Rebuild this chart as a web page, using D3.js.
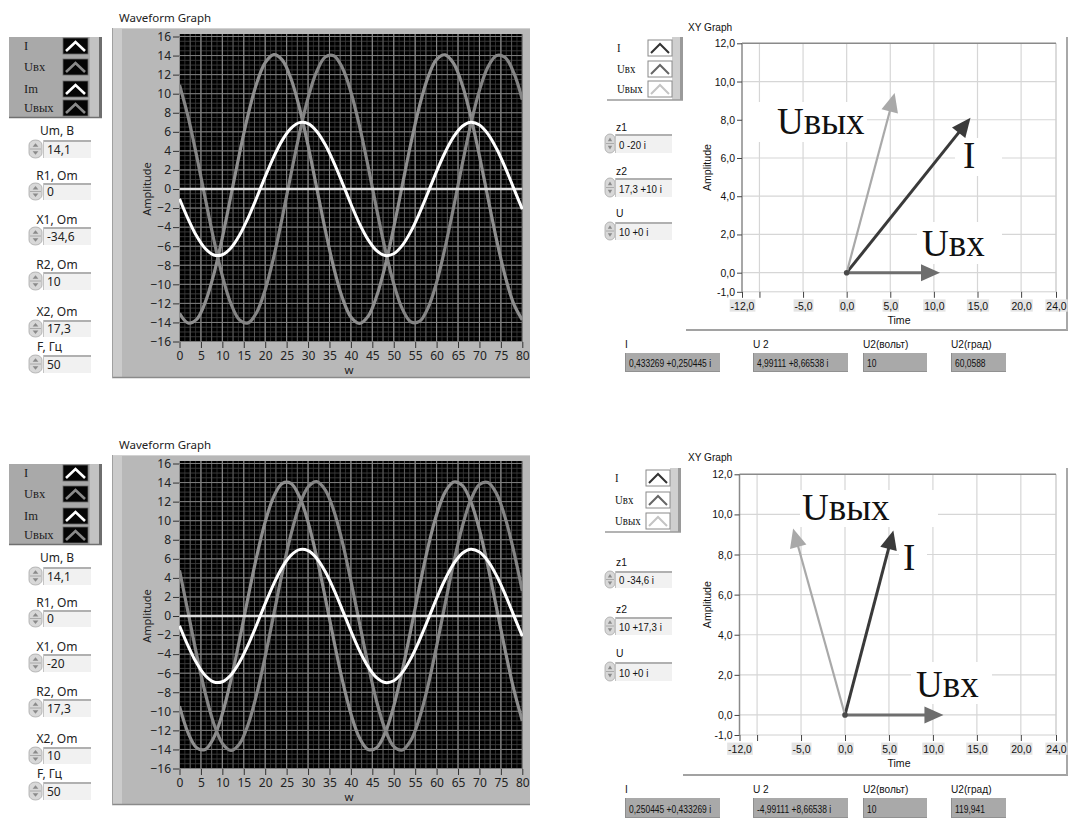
<!DOCTYPE html>
<html><head><meta charset="utf-8">
<script src="https://cdn.jsdelivr.net/npm/d3@7/dist/d3.min.js"></script>
<style>html,body{margin:0;padding:0;background:#fff}svg{display:block}</style>
</head><body><svg id="c" width="1072" height="821"></svg>
<script>
// ---------------- DATA ----------------
const wX=[0,2,4,6,8,10,12,14,16,18,20,22,24,26,28,30,32,34,36,38,40,42,44,46,48,50,52,54,56,58,60,62,64,66,68,70,72,74,76,78,80];
const iTop=[-1.02,-3.13,-4.94,-6.25,-6.92,-6.90,-6.19,-4.86,-3.05,-0.93,1.30,3.38,5.13,6.36,6.96,6.85,6.06,4.66,2.79,0.65,-1.57,-3.63,-5.31,-6.47,-6.98,-6.79,-5.92,-4.45,-2.53,-0.37,1.85,3.86,5.49,6.58,7.00,6.71,5.76,4.22,2.27,0.07,-2.12];
const uOutTop=[-13.05,-14.06,-13.68,-11.90,-8.96,-5.10,-0.71,3.72,7.78,11.08,13.25,14.09,13.52,11.59,8.50,4.57,0.15,-4.26,-8.25,-11.41,-13.43,-14.10,-13.36,-11.26,-8.05,-4.03,0.39,4.80,8.70,11.73,13.59,14.08,13.16,10.91,7.57,3.48,-0.98,-5.33,-9.14,-12.05,-13.73];
const uInTop=[10.93,7.60,3.48,-0.96,-5.30,-9.12,-12.03,-13.73,-14.05,-12.96,-10.56,-7.12,-2.96,1.52,5.82,9.55,12.31,13.85,13.99,12.73,10.18,6.62,2.40,-2.08,-6.33,-9.94,-12.58,-13.94,-13.90,-12.47,-9.80,-6.11,-1.84,2.62,6.84,10.35,12.82,14.01,13.80,12.20,9.38];
const imTop=[0,0,0,0,0,0,0,0,0,0,0,0,0,0,0,0,0,0,0,0,0,0,0,0,0,0,0,0,0,0,0,0,0,0,0,0,0,0,0,0,0];
const iBottom=[-1.02,-3.13,-4.94,-6.25,-6.92,-6.90,-6.19,-4.86,-3.05,-0.93,1.30,3.38,5.13,6.36,6.96,6.85,6.06,4.66,2.79,0.65,-1.57,-3.63,-5.31,-6.47,-6.98,-6.79,-5.92,-4.45,-2.53,-0.37,1.85,3.86,5.49,6.58,7.00,6.71,5.76,4.22,2.27,0.07,-2.12];
const uOutBottom=[-9.46,-12.26,-13.82,-14.00,-12.77,-10.26,-6.73,-2.52,1.96,6.22,9.87,12.53,13.92,13.92,12.52,9.87,6.22,1.96,-2.52,-6.73,-10.26,-12.78,-14.00,-13.82,-12.25,-9.46,-5.71,-1.40,3.05,7.22,10.64,13.00,14.06,13.70,11.97,9.04,5.19,0.83,-3.60,-7.68,-11.00];
const uInBottom=[4.78,0.39,-4.05,-8.07,-11.28,-13.36,-14.10,-13.42,-11.41,-8.23,-4.24,0.17,4.57,8.53,11.60,13.53,14.09,13.24,11.07,7.78,3.70,-0.74,-5.10,-8.95,-11.92,-13.68,-14.06,-13.04,-10.70,-7.30,-3.17,1.30,5.62,9.39,12.21,13.80,14.01,12.82,10.32,6.81,2.62];
const imBottom=[0,0,0,0,0,0,0,0,0,0,0,0,0,0,0,0,0,0,0,0,0,0,0,0,0,0,0,0,0,0,0,0,0,0,0,0,0,0,0,0,0];
const waveYTicks=[-16,-14,-12,-10,-8,-6,-4,-2,0,2,4,6,8,10,12,14,16];
const waveXTicks=[0,5,10,15,20,25,30,35,40,45,50,55,60,65,70,75,80];
const waveLegend=["I","Uвх","Im","Uвых"];
const ctrlLabels=["Um, В","R1, Om","X1, Om","R2, Om","X2, Om","F, Гц"];
const ctrlTop=["14,1","0","-34,6","10","17,3","50"];
const ctrlBottom=["14,1","0","-20","17,3","10","50"];
const xyLegend=["I","Uвх","Uвых"];
const xyYTicks=[12,10,8,6,4,2,0,-1];
const xyYLabels=["12,0","10,0","8,0","6,0","4,0","2,0","0,0","-1,0"];
const xyXTicks=[-12,-10,-5,0,5,10,15,20,24];
const xyXLabels=["-12,0","","-5,0","0,0","5,0","10,0","15,0","20,0","24,0"];
const xyGridX=[-10,-5,0,5,10,15,20];
const xyGridY=[0,2,4,6,8,10];
const vecNames=["Uвх","I","Uвых"];
const vecTopX=[10.7,14.2,5.5];
const vecTopY=[0,8.1,9.4];
const vecBotX=[11.2,5.5,-5.9];
const vecBotY=[0,9.2,9.3];
const zLabels=["z1","z2","U"];
const zTop=["0 -20 i","17,3 +10 i","10 +0 i"];
const zBottom=["0 -34,6 i","10 +17,3 i","10 +0 i"];
const indLabels=["I","U 2","U2(вольт)","U2(град)"];
const indTop=["0,433269 +0,250445 i","4,99111 +8,66538 i","10","60,0588"];
const indBottom=["0,250445 +0,433269 i","-4,99111 +8,66538 i","10","119,941"];

// ---------------- DRAWING ----------------
const svg=d3.select('#c');
const FUI='"Noto Sans","Open Sans",sans-serif';
const FNAR='"Liberation Sans",Arial,sans-serif';
const FSER='"Liberation Serif","DejaVu Serif",serif';

function txt(g,x,y,s,o={}){
  const t=g.append('text').text(s)
    .attr('font-family',o.f||FUI).attr('font-size',o.s||12)
    .attr('fill',o.c||'#222').attr('text-anchor',o.a||'start');
  if(o.sx) t.attr('transform',`translate(${x},${y}) scale(${o.sx},1)`);
  else t.attr('x',x).attr('y',y);
  return t;
}
function spinner(g,x,y0,y1,w){
  const h=y1-y0;
  g.append('rect').attr('x',x).attr('y',y0).attr('width',w).attr('height',h)
    .attr('rx',w/2).attr('ry',5).attr('fill','#d8d8d8').attr('stroke','#a8a8a8').attr('stroke-width',0.8);
  g.append('line').attr('x1',x+1).attr('x2',x+w-1).attr('y1',y0+h/2).attr('y2',y0+h/2).attr('stroke','#a0a0a0').attr('stroke-width',0.8);
  const cx=x+w/2, a=w*0.22;
  g.append('path').attr('d',`M${cx-a},${y0+h*0.38}L${cx},${y0+h*0.18}L${cx+a},${y0+h*0.38}Z`).attr('fill','#8a8a8a');
  g.append('path').attr('d',`M${cx-a},${y0+h*0.62}L${cx},${y0+h*0.82}L${cx+a},${y0+h*0.62}Z`).attr('fill','#8a8a8a');
}
function field(g,x0,x1,y0,y1,s,o={}){
  g.append('rect').attr('x',x0).attr('y',y0).attr('width',x1-x0).attr('height',y1-y0).attr('fill','#f1f1f1');
  g.append('line').attr('x1',x0).attr('x2',x1).attr('y1',y0+1).attr('y2',y0+1).attr('stroke','#b0b0b0').attr('stroke-width',2);
  g.append('line').attr('x1',x0+0.5).attr('x2',x0+0.5).attr('y1',y0).attr('y2',y1).attr('stroke','#c4c4c4').attr('stroke-width',1);
  txt(g,x0+(o.pad||5),y1-(o.bl||4.5),s,{s:o.s||12,f:o.f||FUI,sx:o.sx,c:o.c});
}

function drawWave(off,series,ctrlVals){
  const g=svg.append('g').attr('transform',`translate(0,${off})`);
  txt(g,119,22,'Waveform Graph',{s:11.5});
  g.append('rect').attr('x',112).attr('y',28).attr('width',418).attr('height',350).attr('fill','#b8b8b8');
  g.append('rect').attr('x',112).attr('y',28).attr('width',10).attr('height',350).attr('fill','#cbcbcb');
  g.append('line').attr('x1',112).attr('x2',530).attr('y1',28.5).attr('y2',28.5).attr('stroke','#d2d2d2');
  g.append('line').attr('x1',112).attr('x2',530).attr('y1',377.5).attr('y2',377.5).attr('stroke','#8a8a8a').attr('stroke-width',1.5);
  g.append('line').attr('x1',112.5).attr('x2',112.5).attr('y1',28).attr('y2',378).attr('stroke','#a0a0a0');
  const x=d3.scaleLinear().domain([0,80]).range([179.5,522.3]);
  const y=d3.scaleLinear().domain([-16,16]).range([341.5,36.5]);
  g.append('rect').attr('x',179).attr('y',34).attr('width',344).attr('height',308).attr('fill','#000');
  const grid=g.append('g');
  d3.range(0,80.001,1.25).forEach(v=>grid.append('line').attr('x1',x(v)).attr('x2',x(v)).attr('y1',34).attr('y2',342).attr('stroke','#2e2e2e').attr('stroke-width',1));
  d3.range(-16,16.001,0.5).forEach(v=>grid.append('line').attr('x1',179).attr('x2',523).attr('y1',y(v)).attr('y2',y(v)).attr('stroke','#3a3a3a').attr('stroke-width',1));
  d3.range(0,80.001,2.5).forEach(v=>grid.append('line').attr('x1',x(v)).attr('x2',x(v)).attr('y1',34).attr('y2',342).attr('stroke','#5a5a5a').attr('stroke-width',1));
  waveXTicks.forEach(v=>grid.append('line').attr('x1',x(v)).attr('x2',x(v)).attr('y1',34).attr('y2',342).attr('stroke','#8c8c8c').attr('stroke-width',1));
  waveYTicks.forEach(v=>grid.append('line').attr('x1',179).attr('x2',523).attr('y1',y(v)).attr('y2',y(v)).attr('stroke','#7e7e7e').attr('stroke-width',1));
  const ay=g.append('g').attr('transform','translate(179,0)').call(d3.axisLeft(y).tickValues(waveYTicks).tickSize(6).tickPadding(2));
  const ax=g.append('g').attr('transform','translate(0,342)').call(d3.axisBottom(x).tickValues(waveXTicks).tickSize(6).tickPadding(3));
  [ay,ax].forEach(a=>{a.select('.domain').remove();a.selectAll('line').attr('stroke','#333');
    a.selectAll('text').attr('font-family',FUI).attr('font-size',12).attr('fill','#222');});
  txt(g,349,374,'w',{s:11.5,a:'middle'});
  g.append('text').attr('transform','translate(151,189) rotate(-90)').attr('text-anchor','middle')
    .attr('font-family',FUI).attr('font-size',11).attr('fill','#222').text('Amplitude');
  const clip='clipw'+off;
  g.append('clipPath').attr('id',clip).append('rect').attr('x',179).attr('y',34).attr('width',344).attr('height',308);
  const pg=g.append('g').attr('clip-path',`url(#${clip})`);
  const line=d3.line().x((d,i)=>x(wX[i])).y(d=>y(d)).curve(d3.curveCatmullRom);
  series.forEach(s=>pg.append('path').attr('d',line(s.v)).attr('fill','none').attr('stroke',s.c).attr('stroke-width',s.w).attr('stroke-linejoin','round'));
  // legend
  g.append('rect').attr('x',9).attr('y',37).attr('width',93).attr('height',81).attr('fill','#a9a9a9');
  g.append('rect').attr('x',90).attr('y',37).attr('width',12).attr('height',81).attr('fill','#c2c2c2');
  g.append('rect').attr('x',99).attr('y',37).attr('width',3).attr('height',81).attr('fill','#6e6e6e');
  g.append('line').attr('x1',9).attr('x2',102).attr('y1',117.5).attr('y2',117.5).attr('stroke','#707070').attr('stroke-width',1.5);
  const legY=[46,67,89,108], legC=['#ffffff','#8a8a8a','#ffffff','#8a8a8a'];
  waveLegend.forEach((n,i)=>{
    txt(g,24,legY[i]+4,n,{f:FSER,s:12.5,c:'#1e1e1e'});
    g.append('rect').attr('x',63).attr('y',legY[i]-8).attr('width',25).attr('height',16).attr('fill','#050505').attr('stroke','#6a6a6a').attr('stroke-width',0.8);
    g.append('path').attr('d',`M${66},${legY[i]+5}L${75.5},${legY[i]-4}L${85},${legY[i]+5}`).attr('fill','none').attr('stroke',legC[i]).attr('stroke-width',2.6);
  });
  const lab=[135,180,224,269,316,351], f0=[140,183,227,272,320,355], f1=[158,200,245,290,337,373];
  ctrlLabels.forEach((n,i)=>{
    if(i===5) txt(g,37,lab[i],n,{s:12});
    else txt(g,57,lab[i],n,{s:12,a:'middle'});
    spinner(g,29,f0[i],f1[i],13);
    field(g,43,91,f0[i],f1[i],ctrlVals[i],{pad:4});
  });
}

function drawXY(p){
  const g=svg.append('g');
  const x=d3.scaleLinear().domain([-12,24]).range([p.x0,p.x1]);
  const y=d3.scaleLinear().domain([-1,12]).range([p.y1,p.y0]);
  txt(g,688,p.title,'XY Graph',{f:FNAR,s:11.5,sx:0.88,c:'#111'});
  g.append('rect').attr('x',p.x0).attr('y',p.y0).attr('width',p.x1-p.x0).attr('height',p.y1-p.y0).attr('fill','#fff');
  xyGridX.forEach(v=>g.append('line').attr('x1',x(v)).attr('x2',x(v)).attr('y1',p.y0).attr('y2',p.y1).attr('stroke','#d6d6d6').attr('stroke-width',1.2));
  xyGridY.forEach(v=>g.append('line').attr('x1',p.x0).attr('x2',p.x1).attr('y1',y(v)).attr('y2',y(v)).attr('stroke','#d6d6d6').attr('stroke-width',1.2));
  g.append('line').attr('x1',p.x0).attr('x2',p.x1).attr('y1',p.y1).attr('y2',p.y1).attr('stroke','#d0d0d0');
  g.append('line').attr('x1',p.x1).attr('x2',p.x1).attr('y1',p.y0).attr('y2',p.y1).attr('stroke','#cfcfcf').attr('stroke-width',1.5);
  g.append('line').attr('x1',p.x0).attr('x2',p.x1).attr('y1',p.y0).attr('y2',p.y0).attr('stroke','#8a8a8a').attr('stroke-width',1.5);
  g.append('line').attr('x1',p.x0).attr('x2',p.x0).attr('y1',p.y0).attr('y2',p.y1).attr('stroke','#8a8a8a').attr('stroke-width',1.5);
  g.append('line').attr('x1',p.fx).attr('x2',1068).attr('y1',p.fb).attr('y2',p.fb).attr('stroke','#a2a2a2').attr('stroke-width',2);
  g.append('line').attr('x1',1067).attr('x2',1067).attr('y1',p.ft).attr('y2',p.fb).attr('stroke','#a8a8a8').attr('stroke-width',2);
  const SX=0.95;
  const ay=g.append('g').attr('transform',`translate(${p.x0},0)`).call(d3.axisLeft(y).tickValues(xyYTicks).tickFormat((d,i)=>xyYLabels[i]).tickSize(5).tickPadding(2));
  const ax=g.append('g').attr('transform',`translate(0,${p.y1})`).call(d3.axisBottom(x).tickValues(xyXTicks).tickFormat((d,i)=>xyXLabels[i]).tickSize(6).tickPadding(4));
  [ay,ax].forEach(a=>{a.select('.domain').remove();a.selectAll('line').attr('stroke','#444');
    a.selectAll('text').attr('font-family',FNAR).attr('font-size',11).attr('fill','#111').attr('transform',`scale(${SX},1)`);});
  ay.selectAll('text').attr('x',-7/SX);
  ax.selectAll('.tick').each(function(d,i){
    if(!xyXLabels[i]) return;
    const t=d3.select(this), bb=t.select('text').node().getBBox();
    t.insert('rect','text').attr('x',bb.x-1).attr('y',bb.y).attr('width',bb.width+2).attr('height',bb.height)
      .attr('fill','#e4e4e4').attr('transform',`scale(${SX},1)`);
  });
  txt(g,899,p.y1+32,'Time',{f:FNAR,s:11.5,a:'middle',sx:0.92,c:'#111'});
  g.append('text').attr('transform',`translate(711,${(p.y0+p.y1)/2}) rotate(-90) scale(0.92,1)`).attr('text-anchor','middle')
    .attr('font-family',FNAR).attr('font-size',11.5).attr('fill','#111').text('Amplitude');
  p.lbl.forEach(l=>{
    g.append('rect').attr('x',l.bx0).attr('y',l.by0).attr('width',l.bx1-l.bx0).attr('height',l.by1-l.by0).attr('fill','#fff');
  });
  const col=['#6e6e6e','#3a3a3a','#a9a9a9'], wd=[3,3,2.2];
  const ox=x(0), oy=y(0);
  vecNames.forEach((n,i)=>{
    const tx=x(p.vx[i]), ty=y(p.vy[i]);
    const dx=tx-ox, dy=ty-oy, L=Math.hypot(dx,dy), ux=dx/L, uy=dy/L;
    const hl=19, hw=8.5, bx=tx-ux*hl, by=ty-uy*hl;
    g.append('line').attr('x1',ox).attr('y1',oy).attr('x2',bx+ux*2).attr('y2',by+uy*2).attr('stroke',col[i]).attr('stroke-width',wd[i]);
    g.append('path').attr('d',`M${tx},${ty}L${bx-uy*hw},${by+ux*hw}L${bx+uy*hw},${by-ux*hw}Z`).attr('fill',col[i]);
  });
  g.append('circle').attr('cx',ox).attr('cy',oy).attr('r',2.8).attr('fill','#4a4a4a');
  p.lbl.forEach(l=>txt(g,l.x,l.y,l.t,{f:FSER,s:37,c:'#111'}));
  // legend
  g.append('rect').attr('x',p.lx0).attr('y',p.ly0).attr('width',76).attr('height',p.ly1-p.ly0).attr('fill','#fff');
  g.append('rect').attr('x',p.lx0+65).attr('y',p.ly0).attr('width',11).attr('height',p.ly1-p.ly0).attr('fill','#cfcfcf');
  g.append('rect').attr('x',p.lx0+73).attr('y',p.ly0).attr('width',3).attr('height',p.ly1-p.ly0).attr('fill','#9a9a9a');
  g.append('line').attr('x1',p.lx0).attr('x2',p.lx0+76).attr('y1',p.ly1).attr('y2',p.ly1).attr('stroke','#9a9a9a').attr('stroke-width',1.5);
  const lc=['#333','#666','#c4c4c4'];
  xyLegend.forEach((n,i)=>{
    const cy=p.legY[i];
    txt(g,p.lx0+10,cy+4,n,{f:FSER,s:12,c:'#111',sx:0.9});
    g.append('rect').attr('x',p.lx0+41).attr('y',cy-8).attr('width',24).attr('height',16).attr('fill','#fff').attr('stroke','#8a8a8a').attr('stroke-width',1);
    g.append('path').attr('d',`M${p.lx0+44},${cy+5}L${p.lx0+53},${cy-4}L${p.lx0+62},${cy+5}`).attr('fill','none').attr('stroke',lc[i]).attr('stroke-width',2);
  });
  zLabels.forEach((n,i)=>{
    txt(g,616,p.zl[i],n,{f:FNAR,s:11.5,sx:0.9,c:'#111'});
    spinner(g,605,p.z0[i],p.z1[i],10);
    field(g,615,672,p.z0[i],p.z1[i],p.zv[i],{f:FNAR,s:11,pad:4,sx:0.88,c:'#111'});
  });
  const ix0=[625,753,863,951], ix1=[720,848,927,1006];
  indLabels.forEach((n,i)=>{
    txt(g,ix0[i],p.il,n,{f:FNAR,s:11.5,sx:0.88,c:'#111'});
    g.append('rect').attr('x',ix0[i]).attr('y',p.i0).attr('width',ix1[i]-ix0[i]).attr('height',p.i1-p.i0).attr('fill','#a9a9a9');
    g.append('line').attr('x1',ix0[i]+0.5).attr('x2',ix0[i]+0.5).attr('y1',p.i0).attr('y2',p.i1).attr('stroke','#8e8e8e');
    g.append('line').attr('x1',ix0[i]).attr('x2',ix1[i]).attr('y1',p.i1-0.5).attr('y2',p.i1-0.5).attr('stroke','#919191');
    txt(g,ix0[i]+4,p.i1-5,p.iv[i],{f:FNAR,s:11,c:'#111',sx:0.77});
  });
}

drawWave(0,[{v:uOutTop,c:'#8e8e8e',w:3.2},{v:uInTop,c:'#858585',w:3.2},{v:imTop,c:'#dcdcdc',w:2.5},{v:iTop,c:'#ffffff',w:3}],ctrlTop);
drawWave(427,[{v:uOutBottom,c:'#8e8e8e',w:3.2},{v:uInBottom,c:'#858585',w:3.2},{v:imBottom,c:'#dcdcdc',w:2.5},{v:iBottom,c:'#ffffff',w:3}],ctrlBottom);

drawXY({x0:742,x1:1056,y0:43.3,y1:291.8,title:31,fx:686,fb:330,ft:37,vx:vecTopX,vy:vecTopY,
  lbl:[{t:'Uвых',x:777,y:134,bx0:743,bx1:867,by0:102,by1:142},{t:'I',x:963,y:168,bx0:955,bx1:1002,by0:138,by1:176},{t:'Uвх',x:922,y:256,bx0:917,bx1:1002,by0:222,by1:264}],
  lx0:607,ly0:37,ly1:100,legY:[48,69,89],
  zl:[131,175,217],z0:[134,178,222],z1:[153,197,240],zv:zTop,
  il:348,i0:353,i1:372,iv:indTop});
drawXY({x0:739.5,x1:1056,y0:474.3,y1:735,title:461,fx:683,fb:775,ft:468,vx:vecBotX,vy:vecBotY,
  lbl:[{t:'Uвых',x:802,y:520,bx0:800,bx1:938,by0:490,by1:527},{t:'I',x:903,y:570,bx0:899,bx1:927,by0:540,by1:578},{t:'Uвх',x:916,y:697,bx0:911,bx1:992,by0:662,by1:704}],
  lx0:605,ly0:468,ly1:532,legY:[478,500,521],
  zl:[566,613,657],z0:[571,617,662],z1:[588,635,681],zv:zBottom,
  il:793,i0:798,i1:818,iv:indBottom});
</script></body></html>
